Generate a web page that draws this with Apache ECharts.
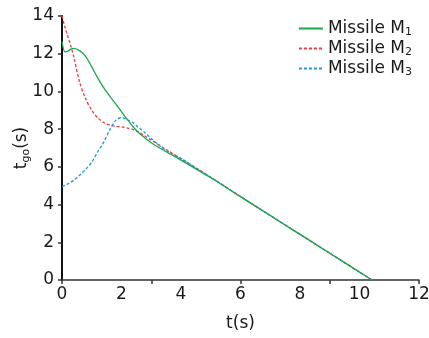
<!DOCTYPE html>
<html>
<head>
<meta charset="utf-8">
<script src="https://cdn.jsdelivr.net/npm/echarts@6/dist/echarts.min.js"></script>
<style>
  html, body { margin: 0; padding: 0; background: #fff; }
  #chart { width: 429px; height: 338px; }
</style>
</head>
<body>
<div id="chart"></div>
<script>
// --- Data (time in s, time-to-go in s) ---
const tM1 = [0, 0.1, 0.2, 0.3, 0.4, 0.6, 0.8, 1.0, 1.2, 1.4, 1.6, 1.8, 2.0, 2.2, 2.4, 2.6, 2.8, 3.0, 3.5, 4, 5, 6, 7, 8, 9, 10, 10.42];
const vM1 = [12.67, 12.1, 12.14, 12.24, 12.28, 12.15, 11.85, 11.3, 10.72, 10.2, 9.76, 9.35, 8.92, 8.5, 8.1, 7.78, 7.52, 7.28, 6.8, 6.36, 5.42, 4.42, 3.42, 2.42, 1.42, 0.42, 0];

const tM2 = [0, 0.1, 0.2, 0.3, 0.4, 0.6, 0.8, 1.0, 1.2, 1.4, 1.6, 1.8, 2.0, 2.2, 2.4, 2.6, 2.8, 3.0, 3.5, 4, 5, 6, 7, 8, 9, 10, 10.42];
const vM2 = [14.0, 13.4, 12.9, 12.4, 11.8, 10.45, 9.6, 9.0, 8.6, 8.35, 8.22, 8.15, 8.12, 8.06, 7.97, 7.82, 7.62, 7.42, 6.92, 6.43, 5.45, 4.43, 3.42, 2.42, 1.42, 0.42, 0];

const tM3 = [0, 0.2, 0.4, 0.6, 0.8, 1.0, 1.2, 1.4, 1.6, 1.8, 2.0, 2.2, 2.4, 2.6, 2.8, 3.0, 3.3, 3.6, 4, 4.5, 5, 6, 7, 8, 9, 10, 10.42];
const vM3 = [4.95, 5.1, 5.3, 5.57, 5.88, 6.25, 6.8, 7.3, 7.95, 8.45, 8.62, 8.5, 8.32, 8.05, 7.8, 7.5, 7.1, 6.78, 6.45, 5.95, 5.45, 4.43, 3.42, 2.42, 1.42, 0.42, 0];

const seriesNames = ['Missile M1', 'Missile M2', 'Missile M3'];
const xLabelTicks = [0, 2, 4, 6, 8, 10, 12];

function pairs(t, v) {
  return t.map((x, i) => [x, v[i]]);
}

const FONT = '"DejaVu Sans", sans-serif';
const TXT = '#1a1a1a';

const chart = echarts.init(document.getElementById('chart'), null, { renderer: 'canvas' });

chart.setOption({
  animation: false,
  grid: { left: 62, right: 10, top: 16, bottom: 58, containLabel: false, outerBoundsMode: 'none' },
  legend: {
    orient: 'vertical',
    right: 12,
    top: 14,
    itemWidth: 24,
    itemHeight: 10,
    itemGap: 1,
    data: seriesNames,
    itemStyle: { opacity: 0 },
    formatter: (name) => '{a|' + name.slice(0, -1) + '}{s|' + name.slice(-1) + '}',
    textStyle: {
      fontFamily: FONT,
      color: TXT,
      rich: {
        a: { fontFamily: FONT, fontSize: 17, color: TXT, lineHeight: 17 },
        s: { fontFamily: FONT, fontSize: 11, color: TXT, lineHeight: 10, padding: [8, 0, 0, 0] }
      }
    }
  },
  xAxis: [
    {
      type: 'value',
      min: 0, max: 12, interval: 2,
      name: 't(s)',
      nameLocation: 'middle',
      nameGap: 35,
      nameMoveOverlap: false,
      nameTextStyle: { fontFamily: FONT, fontSize: 17, color: TXT },
      axisLine: { onZero: false, lineStyle: { color: '#333', width: 1.5 } },
      axisTick: { show: false },
      splitLine: { show: false },
      axisLabel: {
        fontFamily: FONT, fontSize: 17, color: TXT, margin: 6,
        customValues: xLabelTicks
      }
    },
    {
      // tick marks in the reference sit every 3 s, independent of the labels
      type: 'value',
      min: 0, max: 12, interval: 3,
      position: 'bottom',
      axisLine: { show: false },
      axisTick: { show: true, length: 4, lineStyle: { color: '#333', width: 1.5 } },
      axisLabel: { show: false },
      splitLine: { show: false }
    }
  ],
  yAxis: {
    type: 'value',
    min: 0, max: 14, interval: 2,
    name: '{a|t}{s|go}{a|(s)}',
    nameLocation: 'middle',
    nameRotate: 90,
    nameGap: 30,
    nameMoveOverlap: false,
    nameTextStyle: {
      fontFamily: FONT, fontSize: 17, color: TXT,
      rich: {
        a: { fontFamily: FONT, fontSize: 17, color: TXT, lineHeight: 20 },
        s: { fontFamily: FONT, fontSize: 11, color: TXT, lineHeight: 20, padding: [9, 0, 0, 0] }
      }
    },
    axisLine: { show: true, onZero: false, lineStyle: { color: '#111', width: 2 } },
    axisTick: { show: true, length: 4, lineStyle: { color: '#333', width: 1.5 } },
    splitLine: { show: false },
    axisLabel: { fontFamily: FONT, fontSize: 17, color: TXT, margin: 8 }
  },
  series: [
    {
      name: seriesNames[0],
      type: 'line',
      data: pairs(tM1, vM1),
      smooth: 0.3,
      symbol: 'none',
      z: 3,
      lineStyle: { color: '#19a84c', width: 1.3, type: 'solid' },
      itemStyle: { color: '#19a84c' }
    },
    {
      name: seriesNames[1],
      type: 'line',
      data: pairs(tM2, vM2),
      smooth: 0.3,
      symbol: 'none',
      z: 2,
      lineStyle: { color: '#ee3a3f', width: 1.3, type: [3, 2] },
      itemStyle: { color: '#ee3a3f' }
    },
    {
      name: seriesNames[2],
      type: 'line',
      data: pairs(tM3, vM3),
      smooth: 0.3,
      symbol: 'none',
      z: 2,
      lineStyle: { color: '#1e9ad6', width: 1.3, type: [3, 2] },
      itemStyle: { color: '#1e9ad6' }
    }
  ]
});
</script>
</body>
</html>
